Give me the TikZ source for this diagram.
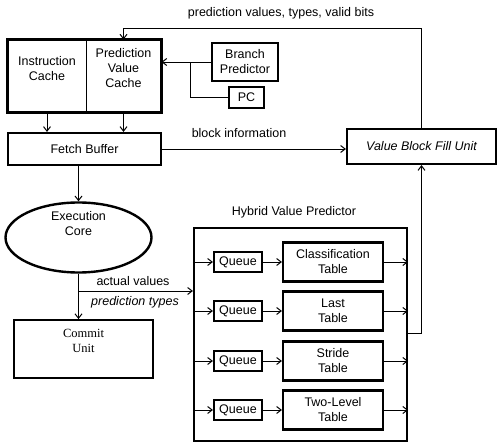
\documentclass[tikz,border=0pt]{standalone}
\usepackage{fontspec}
\setmainfont{Liberation Sans}
\newfontfamily\serifface{Liberation Serif}
\usetikzlibrary{arrows.meta,shapes.geometric}
\begin{document}
\begin{tikzpicture}[x=1pt,y=-1pt,
  font=\fontsize{12.5}{15}\selectfont,
  thickbox/.style={draw,line width=2.2pt,rectangle,align=center,inner sep=0pt},
  thinbox/.style={draw,line width=0.9pt,rectangle,align=center,inner sep=0pt},
  conn/.style={line width=0.9pt},
  arr/.style={line width=0.9pt,-{Straight Barb[length=4.5pt,width=7pt,line width=1pt]}},
  lbl/.style={inner sep=0pt}]
\useasboundingbox (0,0) rectangle (499,443);

% caches
\node[thinbox,minimum width=78,minimum height=72] (icache) at (47,76) {};
\node[thinbox,minimum width=75,minimum height=72] (pvcache) at (123.5,76) {};
\draw[line width=2.2pt] (icache.north west) rectangle (pvcache.south east);
\node[lbl,align=center] (ictext) at (47,69) {Instruction\\Cache};
\node[lbl,align=center] (pvtext) at (123.5,68) {Prediction\\Value\\Cache};

\node[thickbox,minimum width=66,minimum height=38] (bp) at (245,62) {Branch\\Predictor};
\node[thickbox,minimum width=35,minimum height=21] (pc) at (246.5,97.5) {PC};

\node[thickbox,minimum width=153,minimum height=32] (fetch) at (84.5,149) {Fetch Buffer};
\node[thickbox,minimum width=149,minimum height=35] (vbfu) at (421.5,146.5) {\itshape Value Block Fill Unit};

\node[draw,line width=2.4pt,ellipse,minimum width=146,minimum height=70,inner sep=0pt] (exec) at (78.5,237.5) {};
\node[lbl,align=center] (exectext) at (78.5,224) {Execution\\Core};

\node[draw,line width=1.8pt,rectangle,minimum width=139,minimum height=58] (commit) at (83.5,349) {};
\node[lbl,align=center,font=\serifface\fontsize{12.5}{15.5}\selectfont] (committext) at (83.5,341) {Commit\\Unit};

% hybrid value predictor
\node[draw,line width=2.2pt,rectangle,minimum width=213,minimum height=213] (hvp) at (300.5,334.5) {};
\node[lbl] (hvplabel) at (294,212) {Hybrid Value Predictor};

\foreach \i/\y/\t in {1/262/{Classification\\Table},2/311/{Last\\Table},3/361/{Stride\\Table},4/410/{Two-Level\\Table}}{
  \node[thickbox,minimum width=48,minimum height=20] (q\i) at (238,\y) {Queue};
  \node[thickbox,minimum width=100,minimum height=39] (t\i) at (333,\y) {\t};
  \draw[arr] (q\i.west -| hvp.west) -- (q\i.west);
  \draw[arr] (q\i.east) -- (t\i.west);
  \draw[arr] (t\i.east) -- (t\i.east -| hvp.east);
}

% connectors
\draw[arr] (bp.west) -- (bp.west -| pvcache.east);
\coordinate (j1) at (190,62);
\draw[conn] (pc.west) -| (j1);

\coordinate (top) at (0,28);
\draw[arr] (vbfu.north) -- (vbfu.north |- top) -| (pvcache.north);
\node[lbl] (toplabel) at (281,13) {prediction values, types, valid bits};

\draw[arr] (icache.south) -- (icache.south |- fetch.north);
\draw[arr] (pvcache.south) -- (pvcache.south |- fetch.north);

\draw[arr] (fetch.east) -- (fetch.east -| vbfu.west);
\node[lbl] (blocklabel) at (239,133) {block information};

\draw[arr] (fetch.south -| exec.north) -- (exec.north);
\draw[arr] (exec.south) -- (exec.south |- commit.north);

\coordinate (j2) at (exec.south |- 0,291);
\draw[arr] (j2) -- (j2 -| hvp.west);
\node[lbl] (avlabel) at (133,281) {actual values};
\node[lbl] (ptlabel) at (135,302) {\itshape prediction types};

\coordinate (hout) at (hvp.east |- 0,333);
\draw[arr] (hout) -| (vbfu.south);
\end{tikzpicture}
\end{document}
